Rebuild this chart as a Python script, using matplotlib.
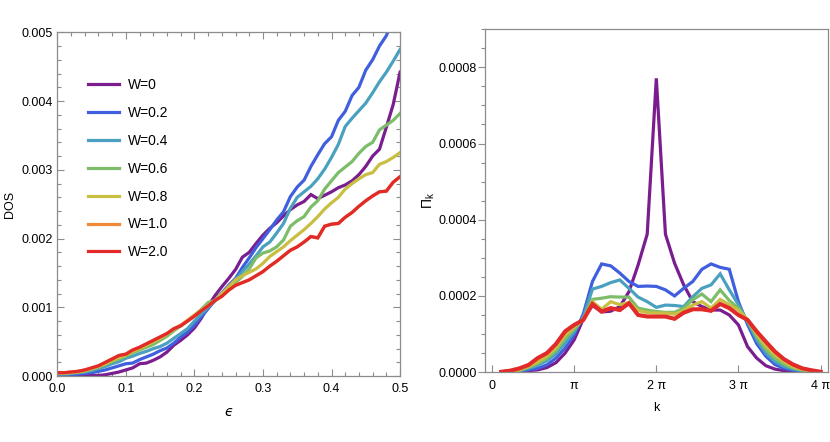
import numpy as np
import matplotlib
matplotlib.use("Agg")
import matplotlib.pyplot as plt
from matplotlib.ticker import MultipleLocator, FixedLocator, FormatStrFormatter

plt.rcParams['font.family'] = ['Liberation Sans', 'DejaVu Sans']
plt.rcParams['mathtext.fontset'] = 'dejavusans'

# ---- data ----
labels = ["W=0", "W=0.2", "W=0.4", "W=0.6", "W=0.8", "W=1.0", "W=2.0"]
colors = ["#7a1d8e", "#3f5fdf", "#4aa1bf", "#7dbd69", "#c8be42", "#ef8a3a", "#e32a2a"]

# left panel: DOS vs energy, values in units of 1e-3
eps = np.linspace(0.0, 0.5, 51)
dos_w0 = [0.00, 0.00, 0.00, 0.01, 0.01, 0.01, 0.01, 0.02, 0.04, 0.06,
          0.09, 0.12, 0.18, 0.19, 0.23, 0.28, 0.35, 0.45, 0.52, 0.60,
          0.70, 0.84, 1.02, 1.17, 1.30, 1.42, 1.55, 1.73, 1.80, 1.93,
          2.05, 2.15, 2.23, 2.33, 2.42, 2.49, 2.54, 2.64, 2.58, 2.63,
          2.68, 2.74, 2.78, 2.84, 2.93, 3.05, 3.20, 3.30, 3.62, 3.95, 4.42]
dos_w02 = [0.02, 0.02, 0.02, 0.03, 0.04, 0.05, 0.07, 0.09, 0.12, 0.15,
           0.18, 0.19, 0.24, 0.28, 0.32, 0.37, 0.41, 0.48, 0.57, 0.64,
           0.74, 0.86, 0.98, 1.10, 1.21, 1.32, 1.42, 1.58, 1.72, 1.87,
           2.00, 2.13, 2.27, 2.39, 2.61, 2.75, 2.85, 3.05, 3.22, 3.38,
           3.48, 3.72, 3.85, 4.08, 4.20, 4.45, 4.60, 4.80, 4.95, 5.20, 5.40]
dos_w04 = [0.03, 0.03, 0.04, 0.05, 0.06, 0.08, 0.11, 0.14, 0.18, 0.21,
           0.26, 0.29, 0.33, 0.36, 0.40, 0.43, 0.48, 0.55, 0.62, 0.69,
           0.80, 0.90, 1.00, 1.09, 1.18, 1.28, 1.40, 1.52, 1.63, 1.75,
           1.88, 1.95, 2.08, 2.22, 2.44, 2.60, 2.68, 2.76, 2.87, 3.01,
           3.18, 3.37, 3.63, 3.75, 3.86, 3.97, 4.12, 4.28, 4.42, 4.58, 4.75]
dos_w06 = [0.04, 0.04, 0.05, 0.06, 0.07, 0.10, 0.13, 0.17, 0.21, 0.25,
           0.29, 0.34, 0.38, 0.42, 0.46, 0.52, 0.58, 0.66, 0.73, 0.80,
           0.88, 0.97, 1.07, 1.10, 1.20, 1.28, 1.36, 1.45, 1.56, 1.72,
           1.79, 1.82, 1.88, 1.98, 2.18, 2.26, 2.32, 2.46, 2.55, 2.72,
           2.84, 2.96, 3.04, 3.12, 3.24, 3.34, 3.40, 3.58, 3.65, 3.72, 3.82]
dos_w08 = [0.04, 0.04, 0.05, 0.06, 0.08, 0.11, 0.14, 0.18, 0.23, 0.27,
           0.31, 0.36, 0.40, 0.45, 0.50, 0.55, 0.61, 0.68, 0.74, 0.81,
           0.89, 0.96, 1.03, 1.10, 1.20, 1.30, 1.40, 1.46, 1.51, 1.56,
           1.64, 1.74, 1.81, 1.88, 1.97, 2.05, 2.13, 2.22, 2.32, 2.43,
           2.52, 2.60, 2.72, 2.80, 2.87, 2.93, 2.96, 3.08, 3.12, 3.18, 3.25]
dos_w10 = [0.05, 0.05, 0.06, 0.07, 0.09, 0.12, 0.15, 0.20, 0.25, 0.30,
           0.32, 0.38, 0.42, 0.47, 0.52, 0.57, 0.62, 0.69, 0.74, 0.81,
           0.88, 0.95, 1.02, 1.10, 1.16, 1.25, 1.32, 1.36, 1.40, 1.46,
           1.52, 1.60, 1.67, 1.75, 1.83, 1.88, 1.95, 2.03, 2.01, 2.18,
           2.21, 2.22, 2.31, 2.38, 2.47, 2.55, 2.62, 2.68, 2.69, 2.82, 2.90]
dos_w20 = [0.05, 0.05, 0.06, 0.07, 0.09, 0.12, 0.15, 0.20, 0.25, 0.30,
           0.32, 0.38, 0.42, 0.47, 0.52, 0.57, 0.62, 0.69, 0.73, 0.80,
           0.87, 0.95, 1.02, 1.10, 1.16, 1.25, 1.32, 1.36, 1.40, 1.46,
           1.52, 1.60, 1.67, 1.75, 1.83, 1.88, 1.95, 2.03, 2.01, 2.18,
           2.21, 2.22, 2.31, 2.38, 2.47, 2.55, 2.62, 2.68, 2.69, 2.82, 2.90]

# right panel: Pi_k vs k (k = n*pi/9), values in units of 1e-4
k_index = np.arange(1, 37)
pk_w0 = [0.00, 0.01, 0.02, 0.04, 0.06, 0.12, 0.25, 0.50, 0.85, 1.40,
         1.75, 1.58, 1.60, 1.72, 2.11, 2.81, 3.62, 7.71, 3.62, 2.86,
         2.29, 1.85, 1.72, 1.63, 1.63, 1.50, 1.24, 0.67, 0.37, 0.17,
         0.08, 0.04, 0.02, 0.01, 0.00, 0.00]
pk_w02 = [0.00, 0.01, 0.03, 0.06, 0.10, 0.19, 0.37, 0.63, 0.98, 1.53,
          2.38, 2.84, 2.79, 2.60, 2.38, 2.25, 2.26, 2.25, 2.16, 2.00,
          2.20, 2.38, 2.70, 2.84, 2.75, 2.70, 1.85, 1.25, 0.75, 0.42,
          0.20, 0.10, 0.05, 0.02, 0.01, 0.00]
pk_w04 = [0.00, 0.01, 0.04, 0.10, 0.18, 0.30, 0.48, 0.76, 1.06, 1.45,
          2.18, 2.25, 2.35, 2.42, 2.20, 1.97, 1.85, 1.70, 1.76, 1.75,
          1.72, 1.98, 2.20, 2.29, 2.58, 2.16, 1.77, 1.32, 0.85, 0.50,
          0.28, 0.15, 0.08, 0.04, 0.02, 0.00]
pk_w06 = [0.00, 0.02, 0.05, 0.13, 0.23, 0.36, 0.57, 0.88, 1.13, 1.40,
          1.91, 1.94, 1.98, 1.97, 1.97, 1.68, 1.63, 1.59, 1.57, 1.57,
          1.68, 1.90, 2.05, 1.85, 2.16, 1.88, 1.68, 1.36, 0.93, 0.60,
          0.36, 0.21, 0.11, 0.05, 0.02, 0.01]
pk_w08 = [0.00, 0.02, 0.06, 0.15, 0.27, 0.42, 0.64, 0.97, 1.18, 1.38,
          1.85, 1.65, 1.85, 1.77, 1.83, 1.62, 1.56, 1.55, 1.55, 1.52,
          1.62, 1.76, 1.85, 1.68, 1.91, 1.77, 1.63, 1.38, 1.00, 0.68,
          0.45, 0.27, 0.14, 0.07, 0.03, 0.01]
pk_w10 = [0.01, 0.04, 0.10, 0.19, 0.37, 0.50, 0.74, 1.07, 1.24, 1.37,
          1.79, 1.59, 1.68, 1.63, 1.81, 1.50, 1.46, 1.46, 1.46, 1.40,
          1.56, 1.65, 1.65, 1.61, 1.79, 1.68, 1.50, 1.37, 1.07, 0.80,
          0.54, 0.34, 0.20, 0.10, 0.05, 0.01]
pk_w20 = [0.01, 0.04, 0.10, 0.19, 0.37, 0.50, 0.74, 1.07, 1.24, 1.37,
          1.79, 1.59, 1.68, 1.63, 1.81, 1.50, 1.46, 1.46, 1.46, 1.40,
          1.56, 1.65, 1.65, 1.61, 1.79, 1.68, 1.50, 1.37, 1.07, 0.80,
          0.54, 0.34, 0.20, 0.10, 0.05, 0.01]

dos_series = [dos_w0, dos_w02, dos_w04, dos_w06, dos_w08, dos_w10, dos_w20]
pk_series = [pk_w0, pk_w02, pk_w04, pk_w06, pk_w08, pk_w10, pk_w20]

k = k_index * np.pi / 9

fig = plt.figure(figsize=(8.3, 4.42), dpi=100)
ax1 = fig.add_axes([0.069, 0.149, 0.413, 0.778])
ax2 = fig.add_axes([0.584, 0.158, 0.413, 0.776])

frame_col = "#8c8c8c"
fs = 9

# ---- left: DOS ----
for y, lab, c in zip(dos_series, labels, colors):
    ax1.plot(eps, np.array(y) * 1e-3, color=c, lw=2.3, label=lab, solid_joinstyle='miter')
ax1.set_xlim(0, 0.5)
ax1.set_ylim(0, 0.005)
ax1.xaxis.set_major_locator(MultipleLocator(0.1))
ax1.xaxis.set_minor_locator(MultipleLocator(0.02))
ax1.yaxis.set_major_locator(MultipleLocator(0.001))
ax1.yaxis.set_minor_locator(MultipleLocator(0.0002))
ax1.xaxis.set_major_formatter(FormatStrFormatter('%.1f'))
ax1.yaxis.set_major_formatter(FormatStrFormatter('%.3f'))
ax1.tick_params(which='both', direction='in', top=True, right=True,
                color=frame_col, labelsize=fs, width=0.8)
ax1.tick_params(which='major', length=5)
ax1.tick_params(which='minor', length=3)
ax1.tick_params(axis='x', pad=5)
ax1.tick_params(axis='y', pad=3)
ax1.set_xlabel('ϵ', fontsize=fs + 1, fontstyle='italic',
               family=['DejaVu Sans'], labelpad=7)
ax1.set_ylabel('DOS', fontsize=fs, labelpad=4)
leg = ax1.legend(loc='upper left', bbox_to_anchor=(0.09, 0.867), frameon=False,
                 fontsize=fs + 1, handlelength=2.2, handletextpad=0.7,
                 labelspacing=1.0, borderpad=0, borderaxespad=0)
for line in leg.get_lines():
    line.set_linewidth(2.3)

# ---- right: Pi_k ----
for y, lab, c in zip(pk_series, labels, colors):
    lw = 2.9 if lab == "W=2.0" else 2.3
    ax2.plot(k, np.array(y) * 1e-4, color=c, lw=lw, solid_joinstyle='miter')
ax2.set_xlim(-0.09 * np.pi, 4.085 * np.pi)
ax2.set_ylim(0, 0.0009)
ax2.xaxis.set_major_locator(FixedLocator([0, np.pi, 2 * np.pi, 3 * np.pi, 4 * np.pi]))
ax2.set_xticklabels(["0", "π", "2 π", "3 π", "4 π"])
ax2.yaxis.set_major_locator(FixedLocator([0, 0.0002, 0.0004, 0.0006, 0.0008]))
ax2.yaxis.set_minor_locator(MultipleLocator(0.00005))
ax2.yaxis.set_major_formatter(FormatStrFormatter('%.4f'))
ax2.tick_params(axis='x', which='both', direction='in', length=5, pad=6,
                color=frame_col, labelsize=fs, width=0.8)
ax2.tick_params(axis='y', which='major', direction='out', length=5, pad=1,
                color=frame_col, labelsize=fs, width=0.8)
ax2.tick_params(axis='y', which='minor', direction='out', length=3,
                color=frame_col, width=0.8)
ax2.set_xlabel('k', fontsize=fs, labelpad=7)
ax2.set_ylabel(r'$\mathregular{\Pi_k}$', fontsize=fs + 1, labelpad=1)

for ax in (ax1, ax2):
    for sp in ax.spines.values():
        sp.set_color(frame_col)
        sp.set_linewidth(0.9)

fig.savefig("out.png", dpi=100)
